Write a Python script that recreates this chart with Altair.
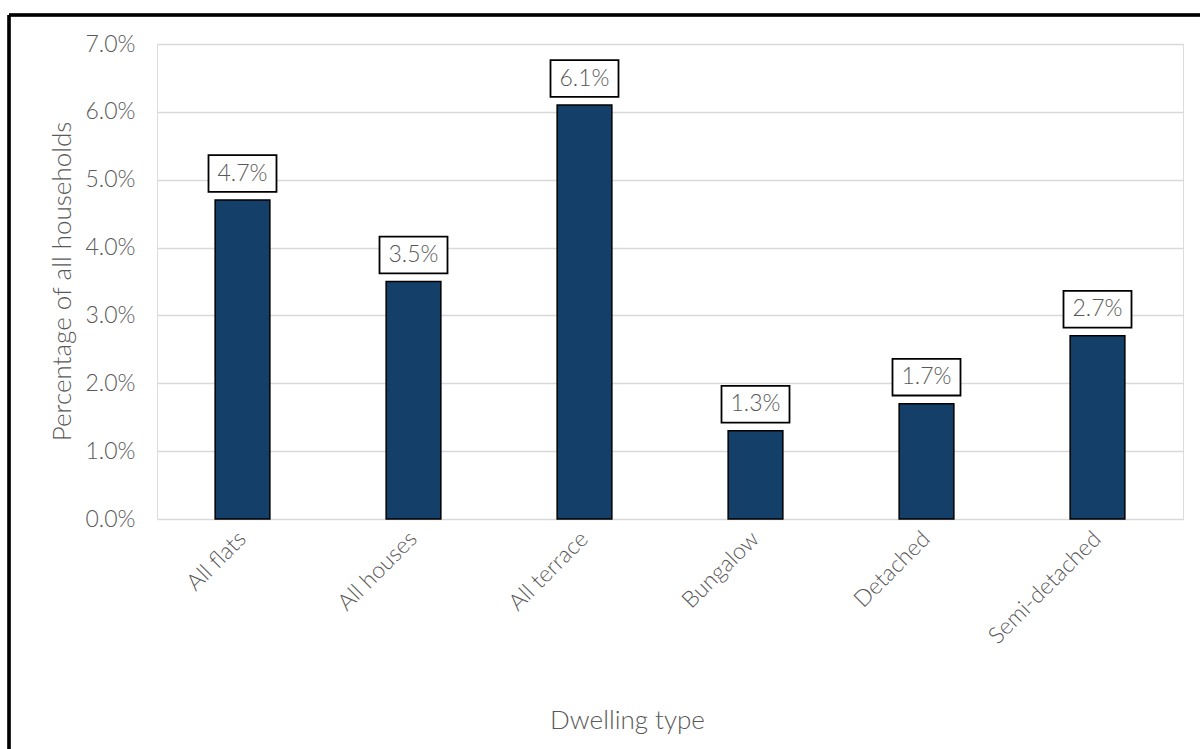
import altair as alt
import pandas as pd

# Share of households by dwelling type
dwelling_types = ["All flats", "All houses", "All terrace", "Bungalow", "Detached", "Semi-detached"]
share_pct = [4.7, 3.5, 6.1, 1.3, 1.7, 2.7]
value_labels = ["4.7%", "3.5%", "6.1%", "1.3%", "1.7%", "2.7%"]

df = pd.DataFrame({
    "type": dwelling_types,
    "share": [v / 100 for v in share_pct],
    "label": value_labels,
})

FONT = "Lato"
WEIGHT = 300
GREY = "#595959"
BAR = "#143F69"

x_enc = alt.X(
    "type:N",
    sort=dwelling_types,
    scale=alt.Scale(paddingInner=0.68, paddingOuter=0.34),
    axis=alt.Axis(
        title="Dwelling type",
        labelAngle=-45,
        labelAlign="right",
        labelBaseline="middle",
        labelPadding=16,
        labelFontSize=23,
        labelFontWeight=WEIGHT,
        labelColor=GREY,
        labelFont=FONT,
        titleFont=FONT,
        titleFontSize=26,
        titleFontWeight=WEIGHT,
        titleColor=GREY,
        titleX=470,
        titleY=201,
        titleAlign="center",
        titleBaseline="middle",
        domain=False,
        ticks=False,
    ),
)

y_enc = alt.Y(
    "share:Q",
    scale=alt.Scale(domain=[0, 0.07], nice=False),
    axis=alt.Axis(
        title="Percentage of all households",
        format=".1%",
        values=[0, 0.01, 0.02, 0.03, 0.04, 0.05, 0.06, 0.07],
        labelPadding=22,
        labelFontSize=23,
        labelFontWeight=WEIGHT,
        labelColor=GREY,
        labelFont=FONT,
        titleFont=FONT,
        titleFontSize=26,
        titleFontWeight=WEIGHT,
        titleColor=GREY,
        titleX=-95,
        titleY=237,
        titleAngle=-90,
        titleBaseline="middle",
        domain=False,
        ticks=False,
        gridColor="#D9D9D9",
        gridWidth=1.5,
    ),
)

base = alt.Chart(df).encode(x=x_enc, y=y_enc)

bars = base.mark_bar(color=BAR, stroke="black", strokeWidth=1.5)

# white boxed value labels above each bar
box_path = "M-1,-0.54L1,-0.54L1,0.54L-1,0.54Z"
boxes = base.mark_point(
    shape=box_path, size=68 * 68, filled=True, fill="white",
    stroke="black", strokeWidth=1.8, opacity=1, yOffset=-26.5,
)
labels = base.mark_text(
    font=FONT, fontSize=23, fontWeight=WEIGHT, color=GREY, yOffset=-26.5, baseline="middle",
).encode(text="label:N")

# outer frame of the figure
frame_left = alt.Chart(df).mark_rule(color="black", strokeWidth=2.5).encode(
    x=alt.value(-148), y=alt.value(-29), y2=alt.value(800)
)
frame_top = alt.Chart(df).mark_rule(color="black", strokeWidth=2.5).encode(
    x=alt.value(-148), x2=alt.value(1100), y=alt.value(-29)
)

chart = alt.layer(bars, boxes, labels, frame_left, frame_top).properties(
    width=1026,
    height=475,
    autosize=alt.AutoSizeParams(type="none"),
    padding={"left": 157, "top": 44, "right": 17, "bottom": 230},
).configure_view(stroke=None).configure(background="white")

chart.save("out.html", embed_options={"renderer": "svg", "actions": False})
